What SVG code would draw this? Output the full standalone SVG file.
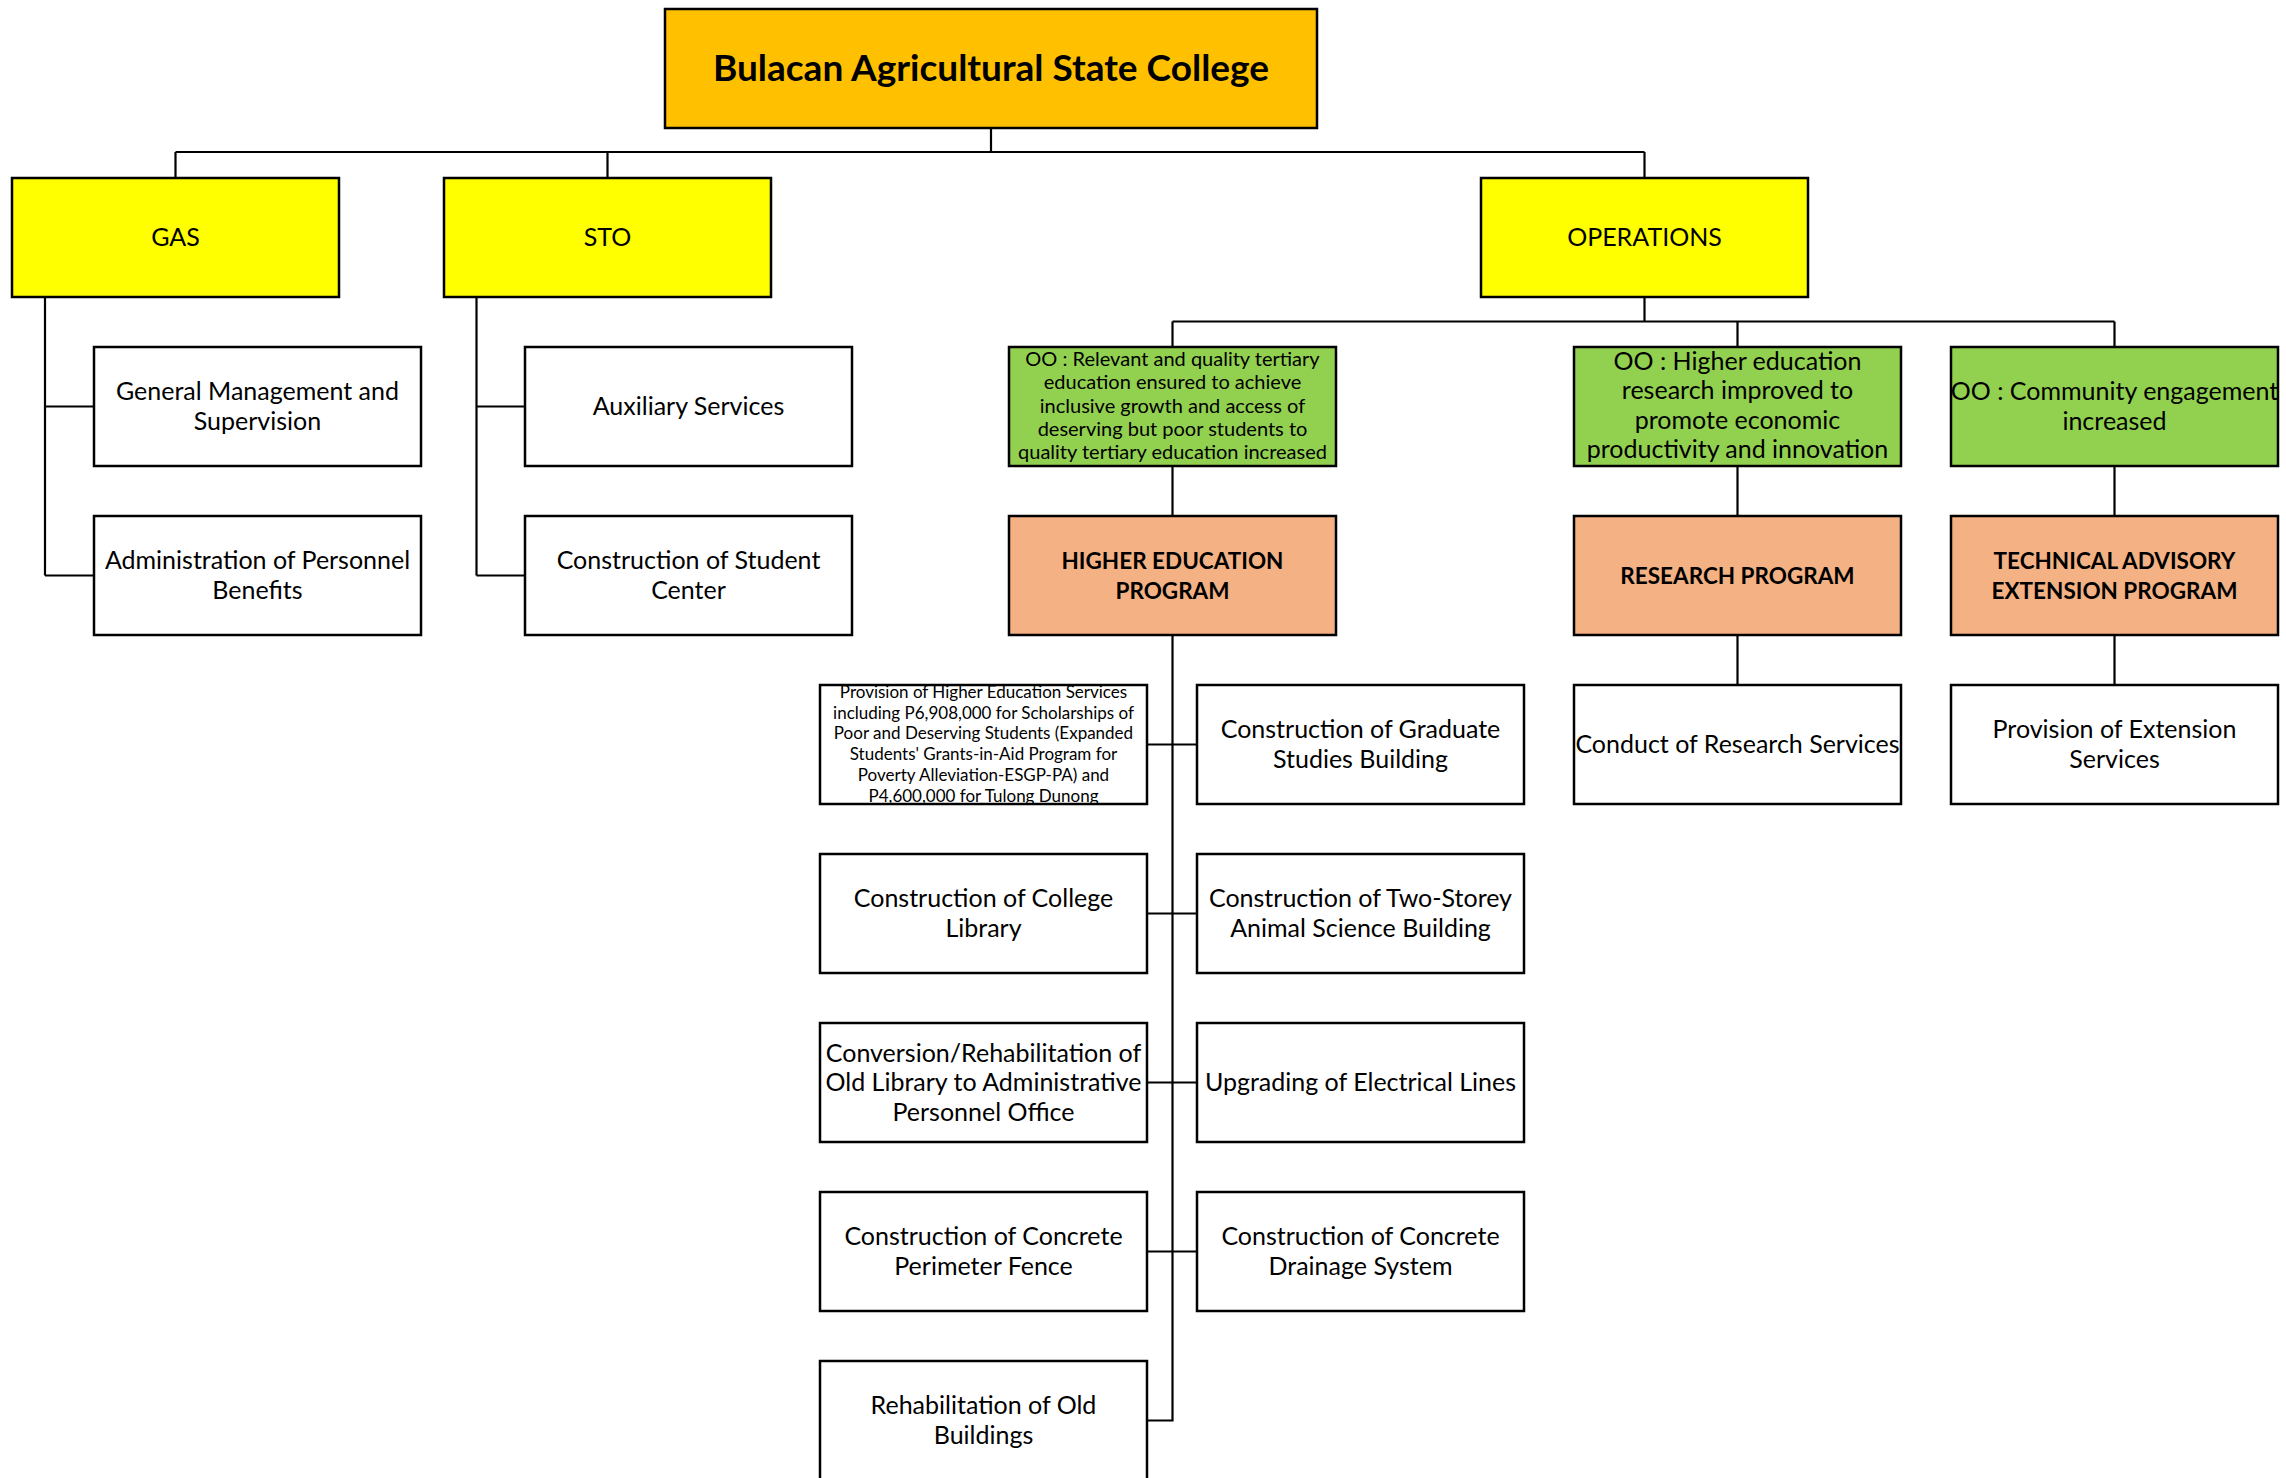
<svg xmlns="http://www.w3.org/2000/svg" width="2286" height="1478" viewBox="0 0 2286 1478">
<style>
rect{stroke:#000;stroke-width:2.5}
.w{fill:#fff}.y{fill:#ffff00}.g{fill:#92d050}.o{fill:#f4b183}.r{fill:#ffc000}
text{font-family:Lato,"Liberation Sans",sans-serif;font-size:25px;fill:#000;text-anchor:middle}
.b{font-weight:bold;font-size:22.5px}
.s{font-size:20px}
.xs{font-size:17px}
#conn path{fill:none;stroke:#000;stroke-width:2.2}
</style>
<defs>
<clipPath id="cp1"><rect x="820" y="685" width="327" height="119"/></clipPath>
</defs>
<rect x="0" y="0" width="2286" height="1478" fill="#fff" style="stroke:none"/>
<g id="conn">
<path d="M991,128V152M175.5,152H1644.5M175.5,152V178M607.5,152V178M1644.5,152V178"/>
<path d="M45,297V575.5M45,406.5H94M45,575.5H94"/>
<path d="M476.5,297V575.5M476.5,406.5H525M476.5,575.5H525"/>
<path d="M1644.5,297V321.5M1172.5,321.5H2114.5M1172.5,321.5V347M1737.5,321.5V347M2114.5,321.5V347"/>
<path d="M1172.5,466V516M1737.5,466V516M2114.5,466V516M1737.5,635V685M2114.5,635V685"/>
<path d="M1172.5,635V1420.5H1147M1147,744.5H1197M1147,913.5H1197M1147,1082.5H1197M1147,1251.5H1197"/>
</g>
<g id="root"><rect class="r" x="665" y="9" width="652" height="119"/><text class="b" x="991" y="81" style="font-size:37px">Bulacan Agricultural State College</text></g>
<g id="gas"><rect class="y" x="12" y="178" width="327" height="119"/><text x="175.5" y="246">GAS</text></g>
<g id="sto"><rect class="y" x="444" y="178" width="327" height="119"/><text x="607.5" y="246">STO</text></g>
<g id="ops"><rect class="y" x="1481" y="178" width="327" height="119"/><text x="1644.5" y="246">OPERATIONS</text></g>
<g id="gms"><rect class="w" x="94" y="347" width="327" height="119"/><text x="257.5" y="400">General Management and</text><text x="257.5" y="429.5">Supervision</text></g>
<g id="apb"><rect class="w" x="94" y="516" width="327" height="119"/><text x="257.5" y="569">Administration of Personnel</text><text x="257.5" y="598.5">Benefits</text></g>
<g id="aux"><rect class="w" x="525" y="347" width="327" height="119"/><text x="688.5" y="415">Auxiliary Services</text></g>
<g id="csc"><rect class="w" x="525" y="516" width="327" height="119"/><text x="688.5" y="569">Construction of Student</text><text x="688.5" y="598.5">Center</text></g>
<g id="oo1"><rect class="g" x="1009" y="347" width="327" height="119"/><text class="s" x="1172.5" y="366"><tspan x="1172.5">OO : Relevant and quality tertiary</tspan><tspan x="1172.5" dy="23.3">education ensured to achieve</tspan><tspan x="1172.5" dy="23.3">inclusive growth and access of</tspan><tspan x="1172.5" dy="23.3">deserving but poor students to</tspan><tspan x="1172.5" dy="23.3">quality tertiary education increased</tspan></text></g>
<g id="oo2"><rect class="g" x="1574" y="347" width="327" height="119"/><text x="1737.5" y="370"><tspan x="1737.5">OO : Higher education</tspan><tspan x="1737.5" dy="29.3">research improved to</tspan><tspan x="1737.5" dy="29.3">promote economic</tspan><tspan x="1737.5" dy="29.3">productivity and innovation</tspan></text></g>
<g id="oo3"><rect class="g" x="1951" y="347" width="327" height="119"/><text x="2114.5" y="400">OO : Community engagement</text><text x="2114.5" y="429.5">increased</text></g>
<g id="hep"><rect class="o" x="1009" y="516" width="327" height="119"/><text class="b" x="1172.5" y="569">HIGHER EDUCATION</text><text class="b" x="1172.5" y="598.5">PROGRAM</text></g>
<g id="rp"><rect class="o" x="1574" y="516" width="327" height="119"/><text class="b" x="1737.5" y="583.5">RESEARCH PROGRAM</text></g>
<g id="taep"><rect class="o" x="1951" y="516" width="327" height="119"/><text class="b" x="2114.5" y="569">TECHNICAL ADVISORY</text><text class="b" x="2114.5" y="598.5">EXTENSION PROGRAM</text></g>
<g id="crs"><rect class="w" x="1574" y="685" width="327" height="119"/><text x="1737.5" y="753">Conduct of Research Services</text></g>
<g id="pes"><rect class="w" x="1951" y="685" width="327" height="119"/><text x="2114.5" y="738">Provision of Extension</text><text x="2114.5" y="767.5">Services</text></g>
<g id="phes"><rect class="w" x="820" y="685" width="327" height="119"/><g clip-path="url(#cp1)"><text class="xs" x="983.5" y="698"><tspan x="983.5">Provision of Higher Education Services</tspan><tspan x="983.5" dy="20.7">including P6,908,000 for Scholarships of</tspan><tspan x="983.5" dy="20.7">Poor and Deserving Students (Expanded</tspan><tspan x="983.5" dy="20.7">Students' Grants-in-Aid Program for</tspan><tspan x="983.5" dy="20.7">Poverty Alleviation-ESGP-PA) and</tspan><tspan x="983.5" dy="20.7">P4,600,000 for Tulong Dunong</tspan></text></g></g>
<g id="gsb"><rect class="w" x="1197" y="685" width="327" height="119"/><text x="1360.5" y="738">Construction of Graduate</text><text x="1360.5" y="767.5">Studies Building</text></g>
<g id="ccl"><rect class="w" x="820" y="854" width="327" height="119"/><text x="983.5" y="907">Construction of College</text><text x="983.5" y="936.5">Library</text></g>
<g id="tsa"><rect class="w" x="1197" y="854" width="327" height="119"/><text x="1360.5" y="907">Construction of Two-Storey</text><text x="1360.5" y="936.5">Animal Science Building</text></g>
<g id="cro"><rect class="w" x="820" y="1023" width="327" height="119"/><text x="983.5" y="1061.5">Conversion/Rehabilitation of</text><text x="983.5" y="1091">Old Library to Administrative</text><text x="983.5" y="1120.5">Personnel Office</text></g>
<g id="uel"><rect class="w" x="1197" y="1023" width="327" height="119"/><text x="1360.5" y="1091">Upgrading of Electrical Lines</text></g>
<g id="cpf"><rect class="w" x="820" y="1192" width="327" height="119"/><text x="983.5" y="1245">Construction of Concrete</text><text x="983.5" y="1274.5">Perimeter Fence</text></g>
<g id="cds"><rect class="w" x="1197" y="1192" width="327" height="119"/><text x="1360.5" y="1245">Construction of Concrete</text><text x="1360.5" y="1274.5">Drainage System</text></g>
<g id="rob"><rect class="w" x="820" y="1361" width="327" height="130"/><text x="983.5" y="1414">Rehabilitation of Old</text><text x="983.5" y="1443.5">Buildings</text></g>
</svg>
